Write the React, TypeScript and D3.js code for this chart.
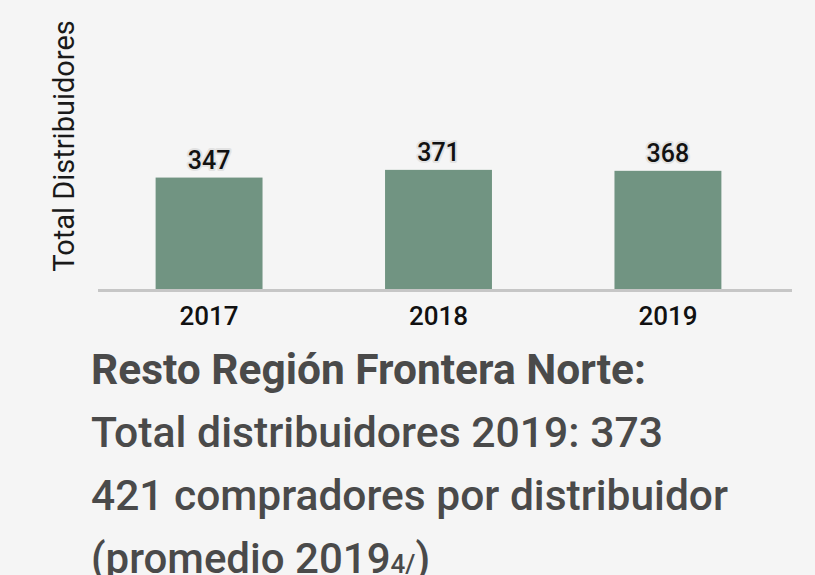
import {useEffect, useRef} from "react";
import * as d3 from "d3";

const years = ["2017", "2018", "2019"];
const totals = [347, 371, 368];
const notes = [
    "Resto Región Frontera Norte:",
    "Total distribuidores 2019: 373",
    "421 compradores por distribuidor",
];
const lastNote = "(promedio 2019";
const lastNoteSub = "4/";

function App() {

    const ref = useRef<SVGSVGElement>(null);

    useEffect(() => {
        const width = 815, height = 575;
        const svg = d3.select(ref.current);
        svg.selectAll("*").remove();

        svg.append("rect")
            .attr("width", width)
            .attr("height", height)
            .attr("fill", "#f5f5f5");

        // plot area
        const baseline = 289;
        var x = d3.scaleBand()
            .domain(years)
            .range([95.5, 781.5])
            .paddingInner(0.534)
            .paddingOuter(0.262);

        var y = d3.scaleLinear()
            .domain([0, 900])
            .range([baseline, 0]);

        const data = years.map((yr, i) => ({year: yr, value: totals[i]}));

        svg.selectAll("rect.bar")
            .data(data)
            .enter()
            .append("rect")
            .attr("class", "bar")
            .attr("x", d => x(d.year)!)
            .attr("y", d => y(d.value))
            .attr("width", x.bandwidth())
            .attr("height", d => y(0) - y(d.value))
            .attr("fill", "#719482");

        // axis line
        svg.append("line")
            .attr("x1", 98)
            .attr("x2", 792)
            .attr("y1", baseline + 1.5)
            .attr("y2", baseline + 1.5)
            .attr("stroke", "#c6c6c6")
            .attr("stroke-width", 3);

        // value labels with halo
        svg.selectAll("text.val")
            .data(data)
            .enter()
            .append("text")
            .attr("class", "val")
            .attr("x", d => x(d.year)! + x.bandwidth() / 2)
            .attr("y", d => y(d.value) - 8.5)
            .attr("text-anchor", "middle")
            .style("font-family", "Roboto, sans-serif")
            .style("font-size", "25px")
            .style("font-weight", 500)
            .style("fill", "#111")
            .style("stroke", "#e2e2e2")
            .style("stroke-width", "4px")
            .style("stroke-linejoin", "round")
            .style("paint-order", "stroke")
            .text(d => d.value);

        // year labels
        svg.selectAll("text.yr")
            .data(years)
            .enter()
            .append("text")
            .attr("class", "yr")
            .attr("x", d => x(d)! + x.bandwidth() / 2)
            .attr("y", 324.5)
            .attr("text-anchor", "middle")
            .style("font-family", "Roboto, sans-serif")
            .style("font-size", "26px")
            .style("font-weight", 500)
            .style("fill", "#111")
            .text(d => d);

        // y axis title
        svg.append("text")
            .attr("transform", "translate(74,146)rotate(-90)")
            .attr("text-anchor", "middle")
            .style("font-family", "Roboto, sans-serif")
            .style("font-size", "29px")
            .style("fill", "#1a1a1a")
            .text("Total Distribuidores");

        // notes under the chart
        const noteWidths = [555, 572, 637];
        notes.forEach((t, i) => {
            svg.append("text")
                .attr("x", 91)
                .attr("y", 383.5 + i * 63.3)
                .attr("textLength", noteWidths[i])
                .attr("lengthAdjust", "spacingAndGlyphs")
                .style("font-family", "Roboto, sans-serif")
                .style("font-size", "42px")
                .style("font-weight", i === 0 ? 700 : 500)
                .style("fill", "#4a4a4a")
                .text(t);
        });

        const last = svg.append("text")
            .attr("x", 91)
            .attr("y", 383.5 + 3 * 63.3)
            .style("font-family", "Roboto, sans-serif")
            .style("font-size", "42px")
            .style("font-weight", 500)
            .style("fill", "#4a4a4a");
        last.append("tspan").text(lastNote);
        last.append("tspan")
            .style("font-size", "26px")
            .text(lastNoteSub);
        last.append("tspan").text(")");
    }, []);

    return <svg ref={ref} width={815} height={575}
                style={{position: "absolute", left: 0, top: 0, display: "block"}}/>;
}

export default App;
